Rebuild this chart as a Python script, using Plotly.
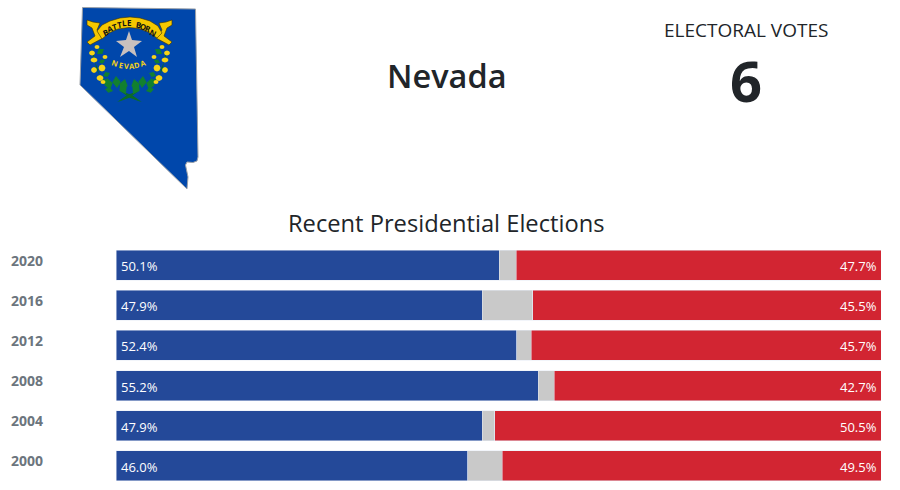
import plotly.graph_objects as go

# resultados por eleccion
anios = ['2020', '2016', '2012', '2008', '2004', '2000']
dem = [50.1, 47.9, 52.4, 55.2, 47.9, 46.0]
otros = [2.2, 6.6, 1.9, 2.1, 1.6, 4.5]
rep = [47.7, 45.5, 45.7, 42.7, 50.5, 49.5]

AZUL = '#244999'
GRIS = '#C9C9C9'
ROJO = '#D22532'
TEXTO = '#212529'
FUENTE = 'Open Sans'

# area de las barras en pixeles de la pagina
IZQ, DER, ARR, ABA = 116, 881, 245, 486


def px(x):
    return (x - IZQ) / (DER - IZQ)


def py(y):
    return (ABA - y) / (ABA - ARR)


def forma(puntos, color, linea=None, ancho=0.6):
    d = 'M' + ' L'.join(f'{px(x):.5f},{py(y):.5f}' for x, y in puntos) + ' Z'
    return dict(type='path', path=d, xref='paper', yref='paper', fillcolor=color, layer='above',
                line=dict(color=linea or color, width=ancho if linea else 0))


def hoja(x0, y0, x1, y1, color, g=0.3):
    # hoja: rombo alargado entre dos puntos
    mx, my = (x0 + x1) / 2, (y0 + y1) / 2
    nx, ny = -(y1 - y0) * g, (x1 - x0) * g
    return forma([(x0, y0), (mx + nx, my + ny), (x1, y1), (mx - nx, my - ny)], color)


def flor(cx, cy, rx, ry):
    k = 0.7
    return forma([(cx + rx, cy), (cx + k * rx, cy + k * ry), (cx, cy + ry), (cx - k * rx, cy + k * ry),
                  (cx - rx, cy), (cx - k * rx, cy - k * ry), (cx, cy - ry), (cx + k * rx, cy - k * ry)], '#F7D417')


def espejo(x):
    return 259 - x


def rotulo(t, x, y, s, color, w=400, ang=0):
    return dict(x=px(x), y=py(y), xref='paper', yref='paper', text=t, showarrow=False, textangle=ang,
                xanchor='center', yanchor='middle', font=dict(size=s, color=color, family=FUENTE, weight=w))


# mapa del estado, dibujado en pixeles
nevada = [(82.5, 7.5), (195.5, 9), (198, 157), (197, 161), (193, 162.5), (187, 162), (185.5, 165),
          (188, 177), (187, 189), (80, 85)]
cinta = [(97, 31), (102, 25), (110, 21), (120, 18), (130, 17), (140, 18), (150, 21), (158, 26), (162, 33), (157, 38),
         (148, 32), (139, 28.5), (129, 27.5), (118, 29), (109, 33), (102, 39)]
cola_izq = [(87, 20), (93, 22), (100, 23), (97, 30), (103, 38), (90, 45), (87, 42), (95, 36), (92, 28), (87, 25)]
estrella = [(129, 31), (132, 40), (142, 41), (134, 47), (137, 57), (129, 51), (120, 57), (124, 47), (116, 41), (126, 40)]
flores = [(97, 47, 2.5, 2), (92, 53, 3, 2.5), (94, 60, 3.5, 2.5), (94, 70, 3, 3), (102, 68, 3.5, 3.5), (100, 78, 3.5, 3),
          (103, 82, 2.5, 2), (105, 57, 2.5, 2)]
tallos = [(92, 50, 95, 62), (95, 62, 99, 75), (99, 75, 108, 84), (117, 102, 138, 91), (141, 102, 120, 91)]
hojas = [(108, 84, 103, 79), (110, 90, 107, 78), (117, 88, 116, 76), (122, 91, 125, 79), (113, 91, 105, 89),
         (97, 54, 104, 49), (99, 63, 105, 60), (103, 76, 110, 73), (126, 94, 120, 84)]
lema = 'BATTLE BORN'
escudo = 'NEVADA'

fig = go.Figure()
fig.add_trace(go.Bar(y=anios, x=dem, orientation='h', name='Dem', marker_color=AZUL, textposition='none'))
fig.add_trace(go.Bar(y=anios, x=otros, orientation='h', name='Other', marker_color=GRIS, textposition='none'))
fig.add_trace(go.Bar(y=anios, x=rep, orientation='h', name='Rep', marker_color=ROJO, textposition='none'))

formas = [forma(nevada, '#0047AB', '#9AA0A8', 1)]
for c in tallos:
    formas.append(hoja(*c, '#0B6B2A', 0.06))
    formas.append(hoja(espejo(c[0]), c[1], espejo(c[2]), c[3], '#0B6B2A', 0.06))
for c in hojas:
    formas.append(hoja(*c, '#12802F', 0.35))
    formas.append(hoja(espejo(c[0]), c[1], espejo(c[2]), c[3], '#12802F', 0.35))
for cx, cy, rx, ry in flores:
    formas.append(flor(cx, cy, rx, ry))
    formas.append(flor(espejo(cx), cy, rx, ry))
formas.append(forma(cola_izq, '#F5C800', '#3A3000'))
formas.append(forma([(espejo(x), y) for x, y in cola_izq], '#F5C800', '#3A3000'))
formas.append(forma(cinta, '#F5C800', '#3A3000'))
formas.append(forma(estrella, '#C8C0BE'))

anotaciones = []
# el eje es de categorias: las anotaciones van por posicion, no por el texto del anio
for i, a in enumerate(anios):
    anotaciones.append(dict(x=px(9), xref='paper', y=i, yref='y', yshift=5, text=f'<b>{a}</b>', showarrow=False,
                            xanchor='left', yanchor='middle', font=dict(size=14, color='#6C757D', family=FUENTE)))
    anotaciones.append(dict(x=0, xref='x', y=i, yref='y', xshift=3, yshift=-1, text=f'{dem[i]:.1f}%', showarrow=False,
                            xanchor='left', yanchor='middle', font=dict(size=13, color='white', family=FUENTE)))
    anotaciones.append(dict(x=100, xref='x', y=i, yref='y', xshift=-2, yshift=-1, text=f'{rep[i]:.1f}%', showarrow=False,
                            xanchor='right', yanchor='middle', font=dict(size=13, color='white', family=FUENTE)))
anotaciones.append(rotulo('Nevada', 446, 75, 32.5, TEXTO, 600))
anotaciones.append(rotulo('ELECTORAL VOTES', 746, 30, 19, TEXTO))
anotaciones.append(rotulo('6', 746, 80, 56, TEXTO, 700))
anotaciones.append(rotulo('Recent Presidential Elections', 446, 223, 23.7, TEXTO))
# letras de la cinta y del escudo, una por una sobre su arco
for i, letra in enumerate(lema):
    u = (i - 5) / 5
    anotaciones.append(rotulo(letra, 129 + 24 * u, 22.5 + 10 * u * u, 8, '#111111', 700, 24 * u))
for i, letra in enumerate(escudo):
    u = (i - 2.5) / 2.5
    anotaciones.append(rotulo(letra, 129 + 14 * u, 66.5 - 4 * u * u, 7.5, '#F7D417', 700, -18 * u))

fig.update_layout(
    barmode='stack', bargap=0.25, width=900, height=490, showlegend=False,
    margin=dict(l=IZQ, r=900 - DER, t=ARR, b=490 - ABA), paper_bgcolor='white', plot_bgcolor='white',
    xaxis=dict(range=[0, 100], visible=False, fixedrange=True),
    yaxis=dict(range=[5.5, -0.5], visible=False, fixedrange=True, type='category'),
    shapes=formas, annotations=anotaciones,
)

fig.write_html('out.html', config=dict(displayModeBar=False), post_script="document.body.style.margin='0';")
